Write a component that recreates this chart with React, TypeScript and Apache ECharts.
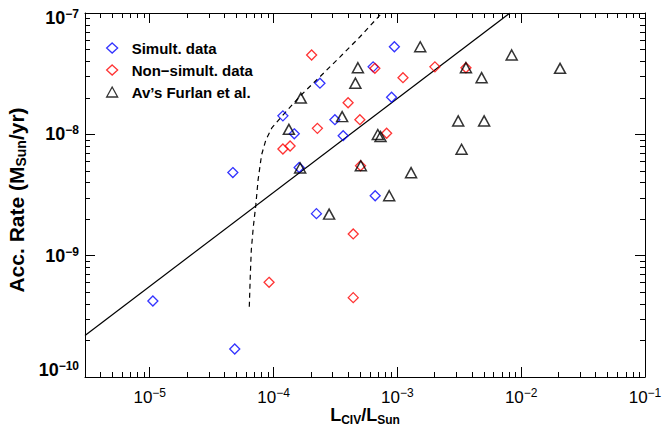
import React, { useEffect, useRef } from "react";
import * as echarts from "echarts";

// ---- Data (L_CIV / L_Sun, Acc. Rate in M_Sun/yr) ----
const simultLciv = [1.06e-5, 4.86e-5, 4.69e-5, 1.19e-4, 1.47e-4, 1.61e-4, 2.37e-4, 3.13e-4, 3.65e-4, 2.22e-4, 9.46e-4, 6.37e-4, 8.98e-4, 6.62e-4];
const simultAcc = [4.23e-10, 1.7e-10, 4.84e-9, 1.42e-8, 1.01e-8, 5.33e-9, 2.64e-8, 1.32e-8, 9.75e-9, 2.22e-9, 5.27e-8, 3.6e-8, 2.02e-8, 3.12e-9];

const nonSimultLciv = [2.03e-4, 4.0e-4, 2.26e-4, 1.19e-4, 1.36e-4, 4.98e-4, 5.04e-4, 6.58e-4, 1.11e-3, 2.01e-3, 3.58e-3, 8.19e-4, 9.2e-5, 4.4e-4, 4.4e-4];
const nonSimultAcc = [4.51e-8, 1.82e-8, 1.12e-8, 7.57e-9, 8.02e-9, 1.32e-8, 5.51e-9, 3.5e-8, 2.93e-8, 3.6e-8, 3.54e-8, 1.02e-8, 6.03e-10, 1.51e-9, 4.51e-10];

const furlanLciv = [1.66e-4, 1.33e-4, 1.64e-4, 3.58e-4, 2.81e-4, 4.8e-4, 4.58e-4, 5.07e-4, 1.53e-3, 3.58e-3, 4.79e-3, 8.38e-3, 2.06e-2, 3.1e-3, 5.02e-3, 6.95e-4, 7.31e-4, 3.3e-3, 1.29e-3, 8.59e-4];
const furlanAcc = [1.99e-8, 1.1e-8, 5.28e-9, 1.4e-8, 2.2e-9, 3.54e-8, 2.64e-8, 5.51e-9, 5.27e-8, 3.54e-8, 2.93e-8, 4.51e-8, 3.5e-8, 1.29e-8, 1.29e-8, 9.97e-9, 9.59e-9, 7.53e-9, 4.83e-9, 3.12e-9];

const fitLciv = [3e-6, 8.11e-3];
const fitAcc = [2.2e-10, 1e-7];

const curveLciv = [6.37e-5, 6.49e-5, 6.61e-5, 6.86e-5, 7.19e-5, 7.5e-5, 8.0e-5, 8.66e-5, 9.68e-5, 1.19e-4, 1.67e-4, 2.36e-4, 3.43e-4, 4.97e-4, 7.5e-4];
const curveAcc = [3.8e-10, 6.93e-10, 1.11e-9, 1.72e-9, 2.62e-9, 4.21e-9, 6.76e-9, 8.98e-9, 1.13e-8, 1.44e-8, 2.11e-8, 2.97e-8, 4.33e-8, 6.34e-8, 1.0e-7];

const legendNames = ["Simult. data", "Non\u2212simult. data", "Av\u2019s Furlan et al."];

const xMin = 3e-6;
const xMax = 1e-1;
const yMin = 1e-10;
const yMax = 1e-7;
const xMajorTicks = [1e-5, 1e-4, 1e-3, 1e-2, 1e-1];
const yMajorTicks = [1e-10, 1e-9, 1e-8, 1e-7];
const xDecades = [-6, -5, -4, -3, -2];
const yDecades = [-10, -9, -8];
const minorMultipliers = [2, 3, 4, 5, 6, 7, 8, 9];

const FONT = "'Liberation Sans', Arial, Helvetica, sans-serif";
const L = (v: number) => Math.log10(v);

function minorTicks(decades: number[], lo: number, hi: number) {
  const out: number[] = [];
  decades.forEach((e) =>
    minorMultipliers.forEach((m) => {
      const v = m * Math.pow(10, e);
      if (v > lo * 1.0001 && v < hi * 0.9999) out.push(L(v));
    })
  );
  return out;
}

const pairs = (xs: number[], ys: number[]) => xs.map((x, i) => [L(x), L(ys[i])]);

const expFmt = (v: number) => {
  const e = Math.round(v);
  return `{b|10}{s|${e < 0 ? "\u2212" + -e : e}}`;
};

export default function App() {
  const ref = useRef<HTMLDivElement>(null);

  useEffect(() => {
    if (!ref.current) return;
    const chart = echarts.init(ref.current, undefined, { renderer: "svg" });

    const xMinL = L(xMin);
    const xMaxL = L(xMax);
    const yMinL = L(yMin);
    const yMaxL = L(yMax);
    const xMinor = minorTicks(xDecades, xMin, xMax);
    const yMinor = minorTicks(yDecades, yMin, yMax);
    const yMajorL = yMajorTicks.map(L);
    const line = { show: true, onZero: false, lineStyle: { color: "#000", width: 1 } };
    const noLine = { show: false, onZero: false };

    const yRich = {
      b: { fontFamily: FONT, fontSize: 18, fontWeight: "bold", color: "#000", lineHeight: 20 },
      s: { fontFamily: FONT, fontSize: 12, fontWeight: "bold", color: "#000", verticalAlign: "top" },
    };
    const yLabel = (values: number[], padding: number[]) => ({
      show: true,
      customValues: values,
      formatter: expFmt,
      margin: 6,
      padding,
      rich: yRich,
    });

    const xBase = (position: string, major: boolean, extra: any = {}) => ({
      type: "value",
      position,
      min: xMinL,
      max: xMaxL,
      axisLine: major ? line : noLine,
      axisTick: {
        show: true,
        inside: true,
        length: major ? 10 : 5,
        customValues: major ? xMajorTicks.map(L) : xMinor,
        lineStyle: { color: "#000", width: 1 },
      },
      axisLabel: { show: false },
      splitLine: { show: false },
      ...extra,
    });
    const yBase = (position: string, major: boolean | null, extra: any = {}) => ({
      type: "value",
      position,
      min: yMinL,
      max: yMaxL,
      axisLine: major ? line : noLine,
      axisTick:
        major === null
          ? { show: false }
          : {
              show: true,
              inside: true,
              length: major ? 10 : 5,
              customValues: major ? yMajorL : yMinor,
              lineStyle: { color: "#000", width: 1 },
            },
      axisLabel: { show: false },
      splitLine: { show: false },
      ...extra,
    });

    const option: any = {
      animation: false,
      backgroundColor: "#fff",
      grid: { left: 85, right: 18, top: 13, bottom: 52, containLabel: false, outerBoundsMode: "none" },
      legend: {
        data: legendNames,
        orient: "vertical",
        left: 106,
        top: 37,
        padding: 0,
        itemGap: 0,
        itemWidth: 11,
        itemHeight: 10,
        symbolKeepAspect: true,
        selectedMode: false,
        itemStyle: { borderWidth: 1.3 },
        textStyle: {
          fontFamily: FONT,
          fontWeight: "bold",
          fontSize: 15,
          color: "#000",
          lineHeight: 22,
          padding: [0, 0, 0, 9],
        },
      },
      xAxis: [
        xBase("bottom", true, {
          axisLabel: {
            show: true,
            customValues: xMajorTicks.map(L),
            formatter: expFmt,
            margin: 10,
            rich: {
              b: { fontFamily: FONT, fontSize: 17, color: "#000", lineHeight: 20 },
              s: { fontFamily: FONT, fontSize: 12, color: "#000", verticalAlign: "top" },
            },
          },
          name: "{b|L}{s|CIV}{b|/L}{s|Sun}",
          nameLocation: "middle",
          nameGap: 27,
          nameMoveOverlap: false,
          nameTextStyle: {
            rich: {
              b: { fontFamily: FONT, fontSize: 18, fontWeight: "bold", color: "#000", lineHeight: 22 },
              s: { fontFamily: FONT, fontSize: 12, fontWeight: "bold", color: "#000", verticalAlign: "bottom" },
            },
          },
        }),
        xBase("bottom", false),
        xBase("top", true),
        xBase("top", false),
      ],
      yAxis: [
        yBase("left", true, {
          axisLabel: yLabel([yMajorL[1], yMajorL[2]], [0, 0, 0, 0]),
          name: "{b|Acc. Rate (M}{s|Sun}{b|/yr)}",
          nameLocation: "middle",
          nameRotate: 90,
          nameGap: 57,
          nameMoveOverlap: false,
          nameTextStyle: {
            padding: [0, 10, 0, 0],
            rich: {
              b: { fontFamily: FONT, fontSize: 21, fontWeight: "bold", color: "#000", lineHeight: 24 },
              s: { fontFamily: FONT, fontSize: 14, fontWeight: "bold", color: "#000", verticalAlign: "bottom" },
            },
          },
        }),
        yBase("left", false, { axisLabel: yLabel([yMajorL[0]], [0, 0, 14, 0]) }),
        yBase("left", null, { axisLabel: yLabel([yMajorL[3]], [10, 0, 0, 0]) }),
        yBase("right", true),
        yBase("right", false),
      ],
      series: [
        {
          name: "fit",
          type: "line",
          data: pairs(fitLciv, fitAcc),
          symbol: "none",
          silent: true,
          z: 1,
          lineStyle: { color: "#000", width: 1.2 },
        },
        {
          name: "curve",
          type: "line",
          data: pairs(curveLciv, curveAcc),
          symbol: "none",
          silent: true,
          z: 1,
          lineStyle: { color: "#000", width: 1.2, type: [5, 4] },
        },
        {
          name: legendNames[0],
          type: "scatter",
          data: pairs(simultLciv, simultAcc),
          symbol: "diamond",
          symbolSize: 10,
          symbolKeepAspect: true,
          silent: true,
          z: 2,
          itemStyle: { color: "rgba(0,0,0,0)", borderColor: "#0000ff", borderWidth: 1.3 },
        },
        {
          name: legendNames[1],
          type: "scatter",
          data: pairs(nonSimultLciv, nonSimultAcc),
          symbol: "diamond",
          symbolSize: 10,
          symbolKeepAspect: true,
          silent: true,
          z: 3,
          itemStyle: { color: "rgba(0,0,0,0)", borderColor: "#ff0000", borderWidth: 1.3 },
        },
        {
          name: legendNames[2],
          type: "scatter",
          data: pairs(furlanLciv, furlanAcc),
          symbol: "triangle",
          symbolSize: [11, 10],
          silent: true,
          z: 4,
          itemStyle: { color: "rgba(0,0,0,0)", borderColor: "#000", borderWidth: 1.5 },
        },
      ],
    };

    chart.setOption(option);
    return () => chart.dispose();
  }, []);

  return <div ref={ref} style={{ position: "absolute", left: 0, top: 0, width: 663, height: 429 }} />;
}
